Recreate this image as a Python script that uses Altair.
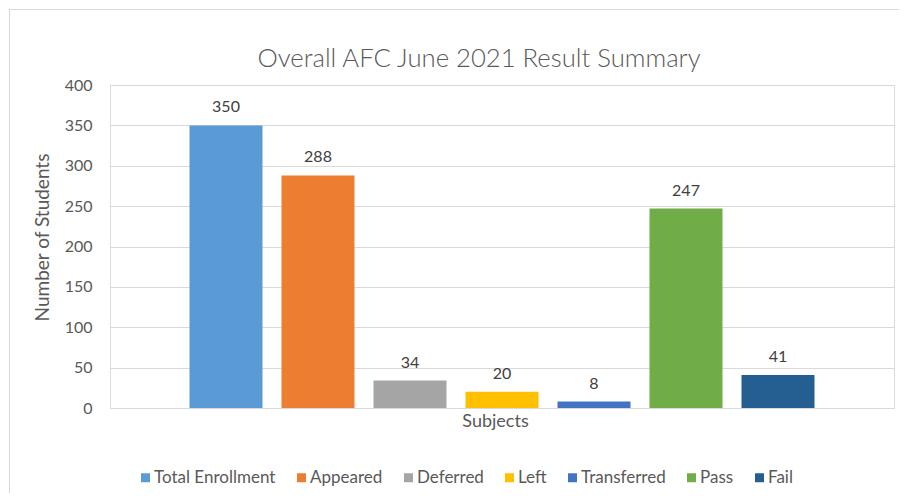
import altair as alt
import pandas as pd

categories = ["Total Enrollment", "Appeared", "Deferred", "Left", "Transferred", "Pass", "Fail"]
values = [350, 288, 34, 20, 8, 247, 41]
colors = ["#5B9BD5", "#ED7D31", "#A5A5A5", "#FFC000", "#4472C4", "#70AD47", "#255E91"]
y_ticks = [0, 50, 100, 150, 200, 250, 300, 350, 400]

df = pd.DataFrame({"Series": categories, "Value": values})

FONT = "Lato"
TXT = "#595959"

x_enc = alt.X(
    "Series:N",
    sort=categories,
    scale=alt.Scale(paddingInner=0.2065, paddingOuter=0.864),
    axis=alt.Axis(title="Subjects", labels=False, ticks=False, domain=False, grid=False,
                  titlePadding=4, titleFontSize=18, titleFontWeight="normal",
                  titleColor=TXT, titleFont=FONT, titleX=385),
)
y_enc = alt.Y(
    "Value:Q",
    scale=alt.Scale(domain=[0, 400], nice=False),
    axis=alt.Axis(title="Number of Students", values=y_ticks, ticks=False, domain=False,
                  grid=True, gridColor="#D9D9D9", gridWidth=1, labelPadding=18,
                  labelFontSize=16, labelColor=TXT, labelFont=FONT,
                  titleFontSize=19, titleFontWeight="normal", titleColor=TXT,
                  titleFont=FONT, titleX=-68, titleY=152, titleAngle=270,
                  titleAlign="center", titleBaseline="middle"),
)

bars = alt.Chart(df).mark_bar().encode(
    x=x_enc,
    y=y_enc,
    color=alt.Color(
        "Series:N",
        sort=categories,
        scale=alt.Scale(domain=categories, range=colors),
        legend=alt.Legend(
            title=None, orient="none", legendX=27, legendY=384, direction="horizontal",
            columns=7, symbolType="square", symbolSize=81, symbolStrokeWidth=0,
            labelFontSize=17, labelColor=TXT, labelFont=FONT, labelOffset=0,
            columnPadding=17,
        ),
    ),
)

labels = alt.Chart(df).mark_text(
    baseline="middle", dy=-18, fontSize=16, color="#404040", font=FONT
).encode(
    x=alt.X("Series:N", sort=categories),
    y=alt.Y("Value:Q"),
    text=alt.Text("Value:Q"),
)

border = alt.Chart(df).mark_rect(
    fill=None, stroke="#D9D9D9", strokeWidth=1, clip=False
).encode(
    x=alt.value(-100.5), x2=alt.value(820), y=alt.value(-75.5), y2=alt.value(480)
)

chart = alt.layer(border, bars, labels).properties(
    width=784,
    height=323,
    padding={"left": 102, "top": 77, "right": 5, "bottom": 85},
    autosize=alt.AutoSizeParams(type="none"),
    title=alt.TitleParams(
        "Overall AFC June 2021 Result Summary", fontSize=25.7, font=FONT,
        fontWeight=300, color=TXT, anchor="middle", offset=-64, dx=-23,
    ),
).configure_view(stroke=None).configure(background="white")

chart.save("out.html", embed_options={"renderer": "svg", "actions": False})
